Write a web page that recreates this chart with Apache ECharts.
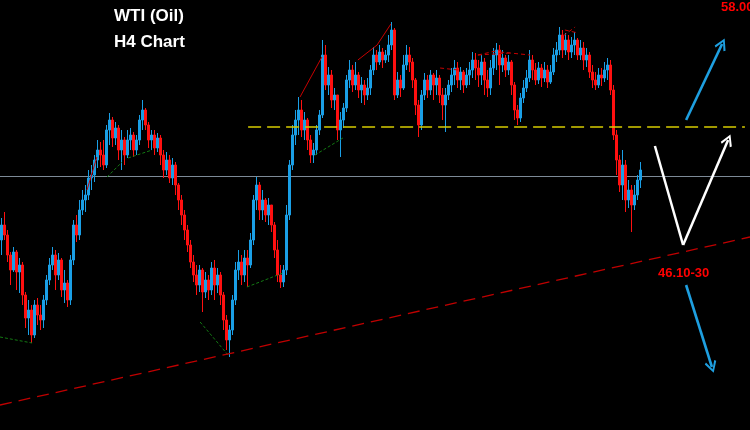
<!DOCTYPE html>
<html><head><meta charset="utf-8">
<script src="https://cdn.jsdelivr.net/npm/echarts@6/dist/echarts.min.js"></script>
<style>html,body{margin:0;padding:0;background:#000;}#c{width:750px;height:430px;}</style>
</head><body><div id="c"></div>
<script>
// ---- data (prices) ----
const firstOpen = 46.40;
const closes = [
47.15,46.65,45.65,44.90,45.80,44.80,45.15,43.65,42.50,42.90,
41.65,43.15,42.65,42.40,43.40,44.40,45.15,45.65,44.65,45.40,
43.90,44.25,43.40,45.40,47.15,46.65,47.90,48.40,48.65,49.50,
49.65,50.40,50.90,50.65,50.15,51.90,52.40,51.50,52.00,50.90,
51.40,50.65,51.40,51.65,50.90,51.40,52.40,52.90,52.15,51.40,
51.65,51.00,51.50,50.65,49.90,50.40,49.50,50.15,49.15,48.40,
47.65,46.90,46.15,45.30,44.65,44.15,44.90,43.80,44.40,43.90,
45.00,44.15,44.65,43.65,42.40,41.40,41.90,43.40,44.90,45.30,
44.65,45.50,45.15,46.40,48.40,49.15,47.90,48.40,47.65,48.15,
47.15,45.90,44.65,44.30,44.90,47.65,50.15,51.65,52.40,52.90,
51.90,52.40,51.40,50.65,50.90,51.90,52.65,55.65,54.15,54.65,
53.40,53.65,51.90,52.40,53.00,54.40,54.90,54.15,54.65,53.90,
54.15,53.65,54.00,54.90,55.65,55.30,55.80,55.40,55.65,56.15,
56.90,53.65,54.40,54.00,55.15,55.65,55.30,54.40,53.15,52.15,
53.65,54.40,53.90,54.65,54.15,54.50,53.65,53.15,53.65,54.15,
54.65,55.00,54.40,54.80,54.15,54.65,54.90,55.40,55.00,54.65,
55.30,54.40,54.00,55.00,55.65,55.90,55.15,55.50,54.90,55.30,
54.15,52.90,52.50,53.50,54.00,54.50,55.40,54.90,54.40,55.00,
54.50,54.90,54.30,54.80,55.65,55.90,56.65,55.90,56.40,55.80,
56.15,56.40,55.65,56.00,55.40,55.65,54.80,54.40,54.15,54.65,
54.50,54.90,55.15,53.90,51.65,50.40,49.15,50.15,48.40,48.90,
48.15,48.65,49.40,49.90];
const highs = [
47.50,47.80,46.90,45.80,46.05,45.90,45.50,45.30,43.80,43.40,
43.15,43.40,43.50,43.15,43.65,44.65,45.50,46.05,45.90,45.75,
45.50,44.90,44.40,45.65,47.40,47.65,48.40,48.90,49.15,49.90,
50.15,50.65,51.40,51.30,51.40,52.15,52.75,52.55,52.30,52.15,
51.90,51.55,51.90,52.00,51.80,51.65,52.65,53.40,53.00,52.30,
51.90,51.90,51.75,51.65,50.90,50.80,50.65,50.50,50.30,49.25,
48.65,47.90,47.15,46.40,45.65,45.15,45.15,45.00,44.80,44.65,
45.30,45.40,45.00,44.80,43.80,42.65,42.15,43.65,45.30,45.90,
45.65,45.90,45.90,46.75,48.65,49.55,49.30,48.90,48.50,48.50,
48.15,47.30,46.40,45.15,45.15,48.15,50.40,52.15,52.90,53.55,
53.40,52.80,52.50,51.65,51.25,52.15,52.90,56.40,56.15,55.05,
54.90,54.00,53.65,52.80,53.25,54.65,55.40,55.15,55.30,54.80,
54.55,54.40,54.50,55.15,56.05,55.90,56.15,56.00,55.90,56.65,
57.30,57.00,54.80,54.65,55.65,56.15,56.05,55.50,54.50,53.40,
53.90,54.75,54.65,54.90,54.75,54.90,54.65,54.00,54.00,54.40,
55.00,55.40,55.30,55.05,54.90,55.00,55.30,55.80,55.75,55.40,
55.65,55.50,54.90,55.40,56.00,56.25,56.15,55.90,55.65,55.65,
55.40,54.30,53.15,53.75,54.40,54.90,55.90,55.65,55.25,55.30,
55.20,55.30,55.15,55.15,56.00,56.30,57.05,56.90,56.75,56.65,
56.55,56.80,56.50,56.40,56.30,56.00,55.80,55.15,54.80,55.00,
55.00,55.30,55.50,55.40,54.15,51.90,50.65,50.90,50.40,49.40,
49.15,49.15,49.65,50.30];
const lows = [
45.65,46.40,45.30,44.15,44.80,43.90,43.75,43.15,42.00,41.65,
41.25,41.50,42.15,41.90,42.00,43.15,44.15,44.90,43.90,44.40,
43.55,43.25,43.05,43.15,45.15,46.30,46.40,47.65,47.80,48.40,
48.90,49.30,50.00,50.05,49.90,50.00,51.15,51.05,51.15,50.40,
49.90,50.15,50.50,50.90,50.55,50.65,51.15,51.90,51.90,51.00,
50.90,50.65,50.80,50.15,49.50,49.65,49.25,49.15,48.65,47.90,
47.15,46.40,45.80,45.00,44.30,43.65,43.80,42.80,43.50,43.40,
43.65,43.40,43.75,43.15,41.90,40.90,40.55,41.65,43.15,44.40,
44.15,44.30,44.05,45.00,46.15,47.90,47.40,47.40,47.30,47.15,
46.80,45.50,44.30,44.00,44.05,44.65,47.40,49.90,51.15,51.65,
51.55,51.40,50.90,50.25,50.25,50.65,51.65,52.50,53.90,53.65,
53.00,52.90,51.40,50.55,52.00,52.80,54.00,53.80,53.90,53.50,
53.25,53.15,53.40,53.65,54.65,54.90,55.15,55.00,55.25,55.30,
55.90,53.40,53.50,53.55,53.90,54.90,54.80,54.00,52.65,51.55,
51.90,53.40,53.50,53.65,53.40,53.65,53.25,52.40,51.80,53.40,
53.80,54.15,54.00,53.90,53.75,54.00,54.15,54.50,54.40,54.05,
54.15,53.65,53.55,53.65,54.65,54.90,54.15,54.80,54.55,54.65,
53.65,52.40,52.15,52.30,53.25,53.80,54.30,54.40,54.15,54.20,
54.05,54.30,54.00,54.20,54.65,55.30,55.65,55.50,55.65,55.40,
55.50,55.65,55.40,55.40,54.90,55.05,54.50,54.00,53.90,54.00,
54.10,54.30,54.40,53.65,51.40,49.65,48.80,48.40,47.80,48.00,
46.80,47.90,48.40,49.00];

const totalSlots = 250;          // H4 bar slots incl. empty future space
const priceMin = 36.9, priceMax = 58.4;

// annotation levels / lines (x in bar slots, y in price)
const resistanceLevel = 52.05;   // yellow dashed
const midLevel = 49.6;           // grey line
const trendSupport = [[0, 38.15], [250, 46.55]];
const greenLows = [
  [[0, 41.55], [10.7, 41.25]],
  [[66.7, 42.3], [76.3, 40.6]],
  [[82.3, 44.05], [94.3, 44.75]],
  [[35.7, 49.55], [40.7, 50.3]],
  [[42.7, 50.5], [50.7, 50.9]],
  [[105, 50.65], [114.3, 51.5]]
];
const redHighs = [
  [[29, 48.9], [32.3, 50.55]],
  [[100, 53.55], [107.3, 55.55]],
  [[119.3, 55.4], [125.7, 56.15]],
  [[125.7, 56.15], [130.3, 57.2]]
];
const redHighsDashed = [
  [[146.7, 55.0], [152.7, 54.9]],
  [[159.3, 55.65], [166.7, 55.9]],
  [[159.3, 55.65], [170, 55.75]],
  [[166.7, 55.8], [176.7, 55.65]],
  [[187.7, 56.6], [191.7, 57.05]],
  [[188.3, 56.9], [192.7, 56.75]]
];
const upArrow = [[228.7, 52.4], [240.7, 56.2]];
const downArrow = [[228.7, 44.15], [237.3, 40.05]];
const vLeg1 = [[218.3, 51.1], [227.7, 46.15]];
const vLeg2 = [[227.7, 46.15], [242.7, 51.4]];

// ---- build ----
const cats = [];
for (let i = 0; i < totalSlots; i++) cats.push('B' + (i + 1));
const ohlc = closes.map((c, i) => [i === 0 ? firstOpen : closes[i - 1], c, lows[i], highs[i]]);

const chev = 'path://M5,0L10,9L8.6,10.2L5,3.2L1.4,10.2L0,9Z';
function lineSeries(data, style, z, sym) {
  return {
    type: 'lines', coordinateSystem: 'cartesian2d', xAxisIndex: 1, yAxisIndex: 0,
    z: z, silent: true, animation: false,
    symbol: sym ? ['none', chev] : ['none', 'none'], symbolSize: sym ? 12 : 0,
    lineStyle: Object.assign({ opacity: 1, curveness: 0 }, style),
    data: data.map(c => ({ coords: c }))
  };
}

const chart = echarts.init(document.getElementById('c'), null, { renderer: 'canvas' });
chart.setOption({
  backgroundColor: '#000000',
  animation: false,
  grid: { left: 0, right: 0, top: 0, bottom: 0 },
  xAxis: [
    { type: 'category', data: cats, boundaryGap: true, show: false },
    { type: 'value', min: 0, max: totalSlots, show: false }
  ],
  yAxis: [{ type: 'value', min: priceMin, max: priceMax, show: false, splitLine: { show: false } }],
  graphic: [
    { type: 'text', left: 114, top: 8, style: { text: 'WTI (Oil)', fill: '#ffffff', font: 'bold 17px "Liberation Sans", Arial, sans-serif' } },
    { type: 'text', left: 114, top: 34, style: { text: 'H4 Chart', fill: '#ffffff', font: 'bold 17px "Liberation Sans", Arial, sans-serif' } },
    { type: 'text', left: 721, top: 1, style: { text: '58.00', fill: '#ff0000', font: 'bold 13px "Liberation Sans", Arial, sans-serif' } },
    { type: 'text', left: 658, top: 267, style: { text: '46.10-30', fill: '#ff0000', font: 'bold 13px "Liberation Sans", Arial, sans-serif' } }
  ],
  series: [
    lineSeries([[[0, midLevel], [totalSlots, midLevel]]], { color: '#7d8a97', width: 1 }, 1, false),
    {
      type: 'candlestick', xAxisIndex: 0, yAxisIndex: 0, z: 3,
      barWidth: 2,
      itemStyle: { color: '#1a9fe6', color0: '#ff1010', borderColor: '#1a9fe6', borderColor0: '#ff1010', borderWidth: 1 },
      data: ohlc
    },
    lineSeries(greenLows, { color: '#137a13', width: 1, type: [3, 2] }, 4, false),
    lineSeries(redHighs, { color: '#c80000', width: 1 }, 4, false),
    lineSeries(redHighsDashed, { color: '#c80000', width: 1, type: [4, 3] }, 4, false),
    lineSeries([[[82.7, resistanceLevel], [248.3, resistanceLevel]]], { color: '#d6cc00', width: 1.5, type: [13, 6] }, 5, false),
    lineSeries([trendSupport], { color: '#c00000', width: 1.3, type: [12, 7] }, 5, false),
    lineSeries([upArrow, downArrow], { color: '#1e9fe0', width: 2.6 }, 6, true),
    lineSeries([vLeg1], { color: '#ffffff', width: 2.5 }, 6, false),
    lineSeries([vLeg2], { color: '#ffffff', width: 2.5 }, 6, true)
  ]
});
</script></body></html>
